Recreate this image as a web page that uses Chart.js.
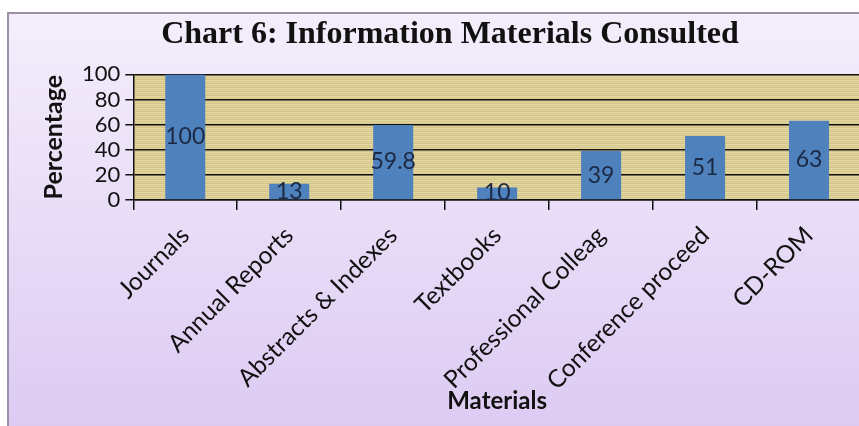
<!DOCTYPE html>
<html>
<head>
<meta charset="utf-8">
<script src="https://cdn.jsdelivr.net/npm/chart.js@4"></script>
<style>
  html, body { margin: 0; padding: 0; overflow: hidden; background: #fff; }
  #wrap { position: absolute; left: 0; top: 0; width: 900px; height: 426px; }
</style>
</head>
<body>
<div id="wrap"><canvas id="myChart" width="900" height="426"></canvas></div>
<script>
// Chart data
const categories = ["Journals", "Annual Reports", "Abstracts & Indexes", "Textbooks",
  "Professional Colleag", "Conference proceed", "CD-ROM"];
const percentages = [100, 13, 59.8, 10, 39, 51, 63];
const yTicks = [0, 20, 40, 60, 80, 100];

// striped khaki texture for the plot area
function makeStripes() {
  const c = document.createElement("canvas");
  c.width = 8; c.height = 4;
  const g = c.getContext("2d");
  const rows = ["#e4d8a0", "#d6c88e", "#e0d49a", "#d2c48a"];
  rows.forEach((col, i) => { g.fillStyle = col; g.fillRect(0, i, 8, 1); });
  return c;
}

const backdrop = {
  id: "backdrop",
  beforeDraw(chart) {
    const { ctx, chartArea: a, width, height } = chart;
    ctx.save();
    ctx.fillStyle = "#ffffff";
    ctx.fillRect(0, 0, width, height);
    const grad = ctx.createLinearGradient(0, 12, 0, height);
    grad.addColorStop(0, "#f4eefb");
    grad.addColorStop(1, "#ddcbf3");
    ctx.fillStyle = grad;
    ctx.fillRect(7, 12, width, height);
    ctx.strokeStyle = "#9a90a8";
    ctx.lineWidth = 2;
    ctx.strokeRect(8, 13, width + 10, height + 10);
    ctx.fillStyle = ctx.createPattern(makeStripes(), "repeat");
    ctx.fillRect(a.left, a.top, a.right - a.left, a.bottom - a.top);
    ctx.restore();
  }
};

// value labels in the middle of each bar
const barLabels = {
  id: "barLabels",
  afterDatasetsDraw(chart) {
    const { ctx } = chart;
    const meta = chart.getDatasetMeta(0);
    ctx.save();
    ctx.font = "23px Lato";
    ctx.fillStyle = "#1b2944";
    ctx.textAlign = "center";
    ctx.textBaseline = "middle";
    meta.data.forEach((bar, i) => {
      const y = (bar.y + bar.base) / 2;
      ctx.fillText(String(percentages[i]), bar.x, Math.min(y, bar.base - 7));
    });
    ctx.restore();
  }
};

const ctx = document.getElementById("myChart").getContext("2d");

const myChart = new Chart(ctx, {
  type: "bar",
  data: {
    labels: categories,
    datasets: [{
      data: percentages,
      backgroundColor: "#4f81bd",
      barPercentage: 0.385,
      categoryPercentage: 1
    }]
  },
  options: {
    responsive: false,
    animation: false,
    layout: { padding: { left: 39, right: 39, top: 0, bottom: 0 } },
    plugins: {
      legend: { display: false },
      tooltip: { enabled: false },
      title: {
        display: true,
        text: "Chart 6: Information Materials Consulted",
        color: "#111",
        font: { family: "Liberation Serif", size: 32, weight: "bold" },
        padding: { top: 16, bottom: 20 }
      }
    },
    scales: {
      x: {
        offset: true,
        // the long rotated labels need more than the default half-height cap
        afterFit(scale) { scale.height = Math.max(scale.height, 226); },
        grid: {
          display: true,
          offset: true,
          drawOnChartArea: false,
          color: "#111",
          lineWidth: 1.5,
          tickLength: 10
        },
        border: { color: "#111", width: 1.5 },
        ticks: {
          color: "#111",
          font: { family: "Lato", size: 24.5 },
          minRotation: 45,
          maxRotation: 45,
          autoSkip: false,
          padding: 11
        },
        title: {
          display: true,
          text: "Materials",
          color: "#111",
          font: { family: "Lato", size: 24, weight: "bold" },
          padding: { top: 0, bottom: 10 }
        }
      },
      y: {
        min: 0,
        max: 100,
        afterBuildTicks(scale) { scale.ticks = yTicks.map(v => ({ value: v })); },
        grid: {
          color: "#111",
          lineWidth: 1.5,
          tickLength: 8
        },
        border: { color: "#111", width: 1.5 },
        ticks: {
          color: "#111",
          font: { family: "Lato", size: 22 },
          autoSkip: false,
          padding: 5
        },
        title: {
          display: true,
          text: "Percentage",
          color: "#111",
          font: { family: "Lato", size: 25, weight: "bold" },
          padding: { top: 0, bottom: 8 }
        }
      }
    }
  },
  plugins: [backdrop, barLabels]
});
</script>
</body>
</html>
